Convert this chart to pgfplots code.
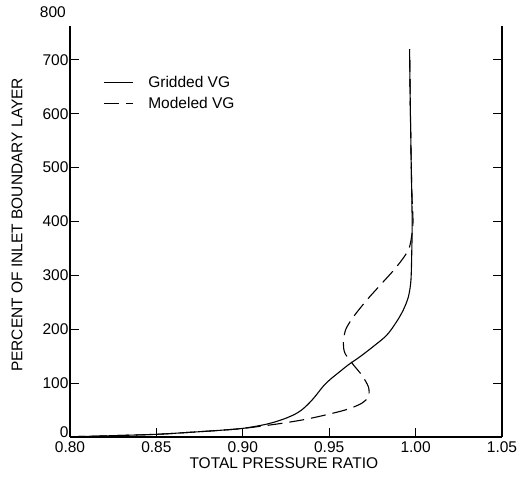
\documentclass[border=0pt]{standalone}
\usepackage{pgfplots}
\pgfplotsset{compat=1.18}
\usepackage{fontspec}
\setmainfont{Liberation Sans}
\newcommand{\chartfont}{\fontsize{15.5}{18}\selectfont}
\begin{document}
\begin{tikzpicture}
\path[use as bounding box] (-70pt,-41pt) rectangle (457pt,437pt);
\begin{axis}[
  scale only axis, width=432pt, height=411pt,
  xmin=0.80, xmax=1.05, ymin=0, ymax=763,
  clip=false,
  axis x line*=bottom, x axis line style={-},
  xtick={0.8,0.85,0.9,0.95,1.0,1.05},
  xticklabels={0.80,0.85,0.90,0.95,1.00,1.05},
  ytick={100,200,300,400,500,600,700},
  extra y ticks={0},
  extra y tick style={yticklabel style={yshift=5pt}},
  tick align=inside, xtick pos=left, ytick pos=both,
  major tick length=9pt,
  tick style={line width=1pt, black},
  axis line style={line width=1.3pt, black},
  /pgf/number format/assume math mode=true,
  tick label style={font=\chartfont},
  yticklabel style={xshift=2pt},
  xticklabel style={yshift=-1.5pt},
  label style={font=\chartfont},
  xlabel={TOTAL PRESSURE RATIO},
  ylabel={PERCENT OF INLET BOUNDARY LAYER},
  xlabel style={at={(axis description cs:0.495,-0.0633)}, anchor=center},
  ylabel style={at={(axis description cs:-0.1227,0.516)}, anchor=center},
  legend style={draw=none, fill=none, font=\chartfont,
    at={(axis description cs:0.0764,0.878)}, anchor=north west,
    inner sep=0pt, column sep=15pt, row sep=8pt, nodes={inner sep=0pt}},
  legend cell align=left,
  legend image code/.code={\draw[#1] (0pt,0pt) -- (29pt,0pt);},
]
\addplot[black, line width=1.1pt, smooth, tension=0.5] coordinates {
(0.800,0.5) (0.820,2) (0.850,5) (0.866,8) (0.885,12) (0.900,16)
(0.914,24) (0.9234,33) (0.930,42) (0.934,50) (0.9375,60) (0.941,72)
(0.944,84) (0.947,96) (0.951,108) (0.956,121) (0.9611,134) (0.9678,149)
(0.9755,168) (0.9833,189) (0.989,214) (0.9929,236) (0.9958,260)
(0.9973,291) (0.9978,347) (0.998,400) (0.9975,500) (0.997,600) (0.9965,720)
};
\addlegendentry{Gridded VG}
\addplot[black, line width=1.1pt, dash pattern=on 15pt off 7pt, smooth, tension=0.5] coordinates {
(0.800,0.5) (0.820,2) (0.850,5) (0.866,8) (0.885,12) (0.9003,16)
(0.9196,24) (0.935,32) (0.948,41) (0.9601,51) (0.9688,62.5)
(0.9727,75) (0.9727,93) (0.9688,115) (0.964,134) (0.9592,155)
(0.9582,174) (0.9595,199) (0.964,223) (0.9717,254) (0.9804,285)
(0.989,316) (0.9958,347) (0.9978,375) (0.9985,400) (0.998,440)
(0.9975,500) (0.997,600) (0.9965,720)
};
\addlegendentry{Modeled VG}
\node[anchor=east, inner sep=0pt, font=\chartfont, xshift=-4pt] at (axis cs:0.80,789) {800};
\end{axis}
\end{tikzpicture}
\end{document}
